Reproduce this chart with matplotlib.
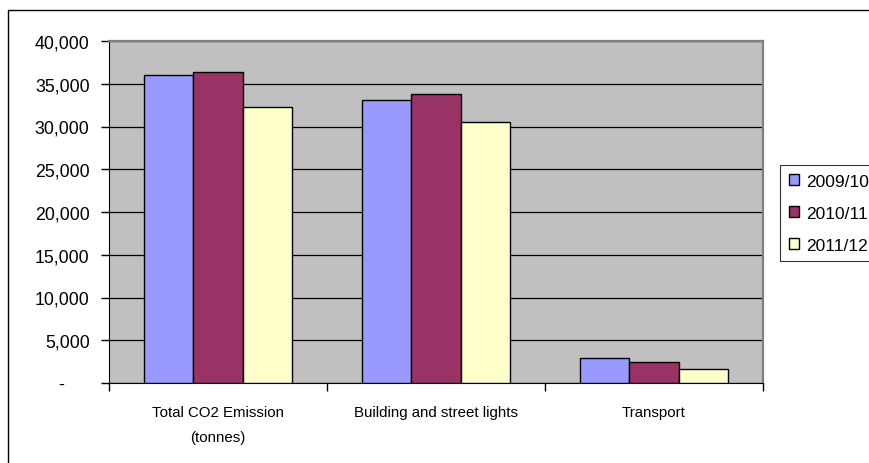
import numpy as np
import matplotlib.pyplot as plt
from matplotlib.patches import Rectangle
from matplotlib.ticker import FuncFormatter

plt.rcParams['font.family'] = ['Liberation Sans', 'DejaVu Sans']

categories = ['Total CO2 Emission\n(tonnes)', 'Building and street lights', 'Transport']
years = ['2009/10', '2010/11', '2011/12']
v_2009 = [36000, 33100, 2900]
v_2010 = [36350, 33800, 2500]
v_2011 = [32250, 30500, 1650]
colors = ['#9999FF', '#993366', '#FFFFCC']

W, H = 870, 464
fig = plt.figure(figsize=(W / 100, H / 100), dpi=100)

# outer chart border (cut off at right and bottom like the source)
fig.patches.append(Rectangle((8 / W, -0.1), 1.2, (H - 11) / H + 0.1,
                             transform=fig.transFigure, fill=False,
                             edgecolor='black', linewidth=1.0))

ax = fig.add_axes([109 / W, (H - 384) / H, (763 - 109) / W, (384 - 42) / H])
ax.set_facecolor('#C0C0C0')

x = np.arange(len(categories))
bw = 0.225
for i, (vals, lab) in enumerate(zip([v_2009, v_2010, v_2011], years)):
    ax.bar(x + (i - 1) * bw, vals, bw, color=colors[i], edgecolor='black',
           linewidth=1.0, label=lab, zorder=3)

ax.set_xlim(-0.5, 2.5)
ax.set_ylim(0, 40000)
ax.set_yticks(np.arange(0, 40001, 5000))
ax.yaxis.set_major_formatter(FuncFormatter(lambda v, p: '-     ' if v == 0 else f'{int(v):,}'))
ax.grid(axis='y', color='black', linewidth=0.9, zorder=1)
ax.set_axisbelow(True)

ax.set_xticks([-0.5, 0.5, 1.5, 2.5])
ax.set_xticklabels([])
ax.set_xticks(x, minor=True)
ax.set_xticklabels(categories, minor=True, fontsize=10.8, linespacing=1.95)
ax.tick_params(axis='x', which='minor', length=0, pad=16)
ax.tick_params(axis='x', which='major', length=6, direction='out', width=1)
ax.tick_params(axis='y', length=6, direction='out', width=1, labelsize=12.8, pad=8)

for s in ['left', 'bottom']:
    ax.spines[s].set_color('black')
for s in ['top', 'right']:
    ax.spines[s].set_color('#808080')
    ax.spines[s].set_linewidth(1.6)

leg = ax.legend(loc='upper left', bbox_to_anchor=(780 / W, (H - 166) / H),
                bbox_transform=fig.transFigure, fontsize=12.5, frameon=True,
                fancybox=False, edgecolor='black', handlelength=0.6,
                handleheight=0.6, handletextpad=0.4, borderpad=0.5,
                labelspacing=0.98, borderaxespad=0)
leg.get_frame().set_linewidth(0.8)

fig.savefig('out.png', dpi=100)
